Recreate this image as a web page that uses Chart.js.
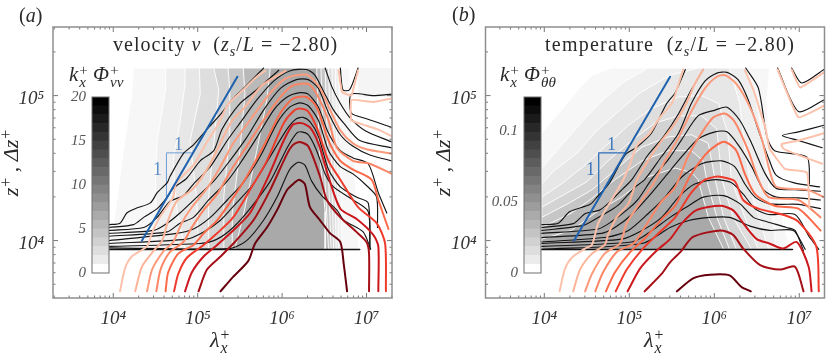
<!DOCTYPE html>
<html><head><meta charset="utf-8">
<style>
html,body{margin:0;padding:0;background:#fff;width:830px;height:354px;overflow:hidden}
canvas{position:absolute;display:block}
.t{position:absolute;font-family:'Liberation Serif',serif;color:#2a2a2a;white-space:nowrap;line-height:1}
.t i{font-style:italic}
.ss{display:inline-flex;flex-direction:column;vertical-align:middle;font-size:.72em;line-height:.8;margin-left:1px;text-align:left}
.one{color:#5d8fc9;font-size:18px}
</style>
<script src="https://cdn.jsdelivr.net/npm/chart.js@4"></script>
</head><body>
<canvas id="mainA" width="410" height="354" style="left:0;top:0"></canvas>
<canvas id="mainB" width="415" height="354" style="left:415px;top:0"></canvas>
<canvas id="barA" width="60" height="190" style="left:50px;top:90px"></canvas>
<canvas id="barB" width="60" height="190" style="left:482px;top:90px"></canvas>
<div class="t" style="left:19px;top:5px;font-size:20px">(<i>a</i>)</div>
<div class="t" style="left:452px;top:4px;font-size:20px">(<i>b</i>)</div>
<div class="t" id="titleA" style="left:113px;top:34px;font-size:20px;letter-spacing:1px">velocity <i>v</i> &nbsp;(<i>z<sub style="font-size:.7em">s</sub></i>/<i>L</i> = −2.80)</div>
<div class="t" id="titleB" style="left:545px;top:34px;font-size:20px;letter-spacing:1.25px">temperature &nbsp;(<i>z<sub style="font-size:.7em">s</sub></i>/<i>L</i> = −2.80)</div>
<div class="t" style="left:69px;top:64px;font-size:21px"><i>k</i><span class="ss"><span>+</span><i>x</i></span> <i>Φ</i><span class="ss"><span>+</span><i>vv</i></span></div>
<div class="t" style="left:500px;top:64px;font-size:21px"><i>k</i><span class="ss"><span>+</span><i>x</i></span> <i>Φ</i><span class="ss"><span>+</span><i>θθ</i></span></div>
<div class="t" style="left:210px;top:329px;font-size:22px"><i>λ</i><span class="ss"><span>+</span><i>x</i></span></div>
<div class="t" style="left:644px;top:329px;font-size:22px"><i>λ</i><span class="ss"><span>+</span><i>x</i></span></div>
<div class="t" style="left:13px;top:163px;font-size:22px;transform:translate(-50%,-50%) rotate(-90deg)"><i>z</i><span class="ss"><span>+</span><span>&nbsp;</span></span> , <i>Δz</i><span class="ss"><span>+</span><span>&nbsp;</span></span></div>
<div class="t" style="left:445px;top:163px;font-size:22px;transform:translate(-50%,-50%) rotate(-90deg)"><i>z</i><span class="ss"><span>+</span><span>&nbsp;</span></span> , <i>Δz</i><span class="ss"><span>+</span><span>&nbsp;</span></span></div>
<div class="t one" style="left:174px;top:135px">1</div>
<div class="t one" style="left:153px;top:160px">1</div>
<div class="t one" style="left:607px;top:135px;color:#3f78bd">1</div>
<div class="t one" style="left:586px;top:160px;color:#3f78bd">1</div>
<script>
// All curves: [log10(lambda_x+), log10(z+)]
const xTickExps=[4,5,6,7], zTickExps=[4,5];
const cbStepsA=[1,1,1,1,1,1,1,1,1,1,1,1,1,1,1,1,1,1,1,1];
const cbStepsB=[.0062,.0062,.0062,.0062,.0062,.0062,.0062,.0062,.0062,.0062,.0062,.0062,.0062,.0062,.0062,.0062,.0062,.0062,.0062,.0062];
const cbTicksA=[0,5,10,15,20], cbTicksB=[0,0.05,0.1];

// ---- panel (a): filled levels
const aL1=[[3.96,3.94],[4.00,4.09],[4.12,4.62],[4.22,5.01],[4.24,5.19],[6.80,5.19],[6.82,4.88],[6.86,4.51],[6.91,3.94]];
const aL2=[[4.50,3.94],[4.52,3.94],[4.50,4.42],[4.52,4.69],[4.62,5.04],[4.62,5.19],[6.67,5.19],[6.69,4.62],[6.71,3.94]];
const aL3=[[4.71,3.94],[4.85,3.94],[4.75,4.23],[4.71,4.55],[4.79,4.81],[4.85,5.08],[4.85,5.19],[6.63,5.19],[6.65,4.62],[6.67,3.94]];
const aL4=[[4.91,3.94],[5.01,3.94],[4.99,4.28],[4.91,4.69],[5.03,5.01],[5.02,5.19],[6.59,5.19],[6.62,4.62],[6.64,3.94]];
const aL5=[[5.13,3.94],[5.13,4.30],[5.21,4.78],[5.25,5.04],[5.19,5.19],[6.55,5.19],[6.58,4.62],[6.61,3.94]];
const aL6=[[5.31,3.94],[5.31,4.30],[5.38,4.74],[5.38,5.04],[5.36,5.19],[6.51,5.19],[6.54,4.62],[6.58,3.94]];
const aL7=[[5.41,3.94],[5.41,4.19],[5.50,4.62],[5.56,5.01],[5.54,5.19],[6.46,5.19],[6.49,4.62],[6.55,3.94]];
const aL8=[[5.44,3.94],[5.54,4.17],[5.70,4.62],[5.82,4.97],[5.86,5.19],[6.41,5.19],[6.44,4.62],[6.51,4.2],[6.51,3.94]];
const aLobe=[[6.90,5.19],[7.30,5.19]];
// ---- panel (a): black contours
const aK1=[[3.95,4.11],[4.08,4.12],[4.16,4.19],[4.26,4.22],[4.44,4.26],[4.52,4.33],[4.64,4.40],[4.67,4.44],[4.83,4.60],[4.95,4.66],[5.13,4.78],[5.27,4.87],[5.42,4.98],[5.58,5.07],[5.78,5.19]];
const aK2=[[3.95,4.09],[4.24,4.11],[4.36,4.16],[4.52,4.22],[4.64,4.30],[4.71,4.36],[4.87,4.43],[5.03,4.55],[5.19,4.62],[5.29,4.77],[5.50,4.945],[5.70,5.04],[5.96,5.175]];
const aK2r=[[6.51,5.19],[6.59,5.06],[6.69,4.945],[6.80,4.85],[6.98,4.76],[7.30,4.68]];
const aK3=[[3.95,4.07],[4.36,4.09],[4.52,4.16],[4.67,4.27],[4.83,4.31],[4.95,4.39],[5.15,4.51],[5.35,4.69],[5.50,4.81],[5.70,4.97],[5.90,5.10],[6.09,5.17],[6.29,5.18],[6.39,5.14],[6.49,5.03],[6.61,4.90],[6.73,4.81],[6.92,4.69],[7.30,4.64]];
const aK4=[[3.95,4.05],[4.48,4.07],[4.64,4.12],[4.79,4.19],[4.99,4.30],[5.19,4.41],[5.38,4.55],[5.58,4.71],[5.78,4.90],[5.98,5.05],[6.17,5.11],[6.31,5.11],[6.43,5.05],[6.55,4.88],[6.69,4.73],[6.84,4.65],[7.04,4.59],[7.30,4.55]];
const aK5=[[3.95,4.03],[4.64,4.06],[4.79,4.12],[4.95,4.16],[5.13,4.28],[5.35,4.41],[5.50,4.53],[5.70,4.71],[5.90,4.90],[6.06,4.99],[6.21,5.02],[6.31,5.01],[6.43,4.92],[6.55,4.74],[6.69,4.62],[6.84,4.57],[7.02,4.53],[7.14,4.33],[7.24,4.19]];
const aK6=[[3.95,4.00],[4.75,4.05],[4.95,4.08],[5.15,4.16],[5.35,4.28],[5.54,4.40],[5.74,4.58],[5.94,4.81],[6.09,4.92],[6.21,4.95],[6.31,4.93],[6.43,4.83],[6.55,4.62],[6.69,4.51],[6.84,4.46],[7.00,4.38],[7.12,4.30],[7.13,4.09]];
const aK7=[[3.95,3.98],[4.87,4.01],[5.07,4.06],[5.27,4.14],[5.46,4.26],[5.66,4.39],[5.86,4.58],[6.06,4.77],[6.17,4.84],[6.25,4.85],[6.33,4.82],[6.43,4.72],[6.55,4.49],[6.69,4.37],[6.88,4.30],[7.02,4.26],[7.04,3.96]];
const aK8=[[3.95,3.96],[5.03,3.98],[5.23,4.01],[5.42,4.09],[5.62,4.22],[5.86,4.41],[6.06,4.64],[6.17,4.74],[6.23,4.75],[6.31,4.73],[6.41,4.62],[6.51,4.46],[6.61,4.37],[6.84,4.28],[7.02,4.20],[7.04,3.94]];
const aK9=[[3.95,3.95],[5.38,3.945],[5.58,4.00],[5.78,4.14],[5.94,4.30],[6.09,4.49],[6.19,4.54],[6.27,4.52],[6.35,4.41],[6.47,4.31],[6.65,4.21],[6.73,4.14],[6.96,4.06],[7.05,3.94]];
const aKcup=[[6.69,5.19],[6.72,5.04],[6.80,5.04],[6.90,5.19]];
const aKlobe=[[7.30,5.01],[7.08,5.00],[6.82,5.01],[6.82,4.88],[7.00,4.84],[7.30,4.78]];
const aFlat=[[3.95,3.938],[6.92,3.938]];
// ---- panel (a): coloured contours
const aR1=[[4.08,3.65],[4.14,3.81],[4.22,3.89],[4.40,3.96],[4.45,4.04],[4.54,4.15],[4.62,4.22],[4.71,4.30],[4.74,4.39],[4.83,4.45],[4.95,4.52],[5.09,4.66],[5.25,4.81],[5.36,4.94],[5.54,5.04],[5.70,5.13],[5.80,5.17]];
const aR2=[[4.26,3.65],[4.34,3.82],[4.48,3.93],[4.58,4.00],[4.65,4.14],[4.75,4.27],[4.95,4.36],[5.13,4.51],[5.25,4.65],[5.40,4.82],[5.56,4.92],[5.76,5.07],[6.04,5.17]];
const aR3=[[4.40,3.65],[4.46,3.80],[4.60,3.93],[4.71,3.99],[4.81,4.12],[4.93,4.23],[5.11,4.36],[5.27,4.51],[5.42,4.67],[5.62,4.83],[5.82,4.99],[6.02,5.11],[6.17,5.14],[6.31,5.14],[6.45,5.05],[6.57,4.90],[6.69,4.76],[6.84,4.67],[7.00,4.63],[7.30,4.60]];
const aR4=[[4.51,3.65],[4.56,3.80],[4.67,3.92],[4.83,3.99],[4.93,4.09],[5.07,4.21],[5.23,4.32],[5.40,4.49],[5.58,4.65],[5.78,4.83],[5.98,4.99],[6.13,5.07],[6.31,5.08],[6.41,5.01],[6.55,4.83],[6.65,4.64],[6.84,4.55],[7.04,4.53],[7.30,4.46]];
const aR5=[[4.62,3.65],[4.65,3.78],[4.77,3.91],[4.95,3.97],[5.07,4.05],[5.23,4.14],[5.38,4.26],[5.58,4.44],[5.78,4.65],[5.98,4.88],[6.13,4.98],[6.29,4.99],[6.41,4.92],[6.55,4.69],[6.69,4.55],[6.84,4.49],[7.06,4.42],[7.14,4.28],[7.26,4.08]];
const aR6=[[4.72,3.65],[4.77,3.77],[4.87,3.88],[5.07,3.97],[5.23,4.05],[5.42,4.16],[5.62,4.35],[5.82,4.55],[6.02,4.81],[6.15,4.90],[6.23,4.91],[6.31,4.89],[6.41,4.78],[6.55,4.55],[6.69,4.42],[6.90,4.23],[7.12,4.12],[7.22,3.98],[7.23,3.65]];
const aR7=[[4.85,3.65],[4.93,3.78],[5.07,3.89],[5.23,3.97],[5.42,4.07],[5.62,4.19],[5.82,4.42],[6.02,4.69],[6.13,4.80],[6.23,4.81],[6.33,4.78],[6.43,4.67],[6.55,4.44],[6.69,4.22],[6.88,4.15],[7.08,4.04],[7.14,3.96],[7.14,3.65]];
const aR8=[[5.01,3.65],[5.11,3.80],[5.27,3.89],[5.44,3.99],[5.66,4.14],[5.86,4.35],[6.06,4.60],[6.13,4.66],[6.21,4.68],[6.31,4.65],[6.45,4.44],[6.53,4.28],[6.69,4.16],[6.88,4.06],[7.00,3.99],[7.03,3.91],[7.03,3.65]];
const aR9=[[5.27,3.65],[5.42,3.75],[5.60,3.86],[5.68,3.98],[5.82,4.09],[5.94,4.21],[6.06,4.35],[6.15,4.40],[6.20,4.42],[6.27,4.39],[6.33,4.23],[6.45,4.14],[6.57,4.05],[6.69,3.99],[6.73,3.84],[6.77,3.65]];
const aRcup=[[6.67,5.175],[6.71,5.025],[6.82,5.00],[6.87,5.105],[6.90,5.175]];
const aRlobe=[[7.30,4.98],[7.08,4.956],[6.82,4.97],[6.82,4.83],[6.96,4.80],[7.12,4.77],[7.30,4.72]];
const aSlope=[[4.34,4.00],[5.47,5.13]];
const aTri=[[4.63,4.29],[4.63,4.605],[4.94,4.605]];

// ---- panel (b): filled levels
const bL1=[[3.97,3.94],[3.97,4.74],[4.20,4.90],[4.40,5.04],[4.56,5.14],[4.79,5.19],[6.65,5.19],[6.62,4.97],[6.64,4.69],[6.75,4.28],[6.89,3.94]];
const bL2=[[3.97,3.94],[3.97,4.50],[4.22,4.67],[4.46,4.83],[4.69,4.97],[4.93,5.09],[5.22,5.19],[6.36,5.19],[6.48,5.01],[6.56,4.74],[6.66,4.28],[6.73,3.94]];
const bL3=[[3.97,3.94],[3.97,4.39],[4.11,4.48],[4.38,4.60],[4.62,4.76],[4.89,4.90],[5.13,5.02],[5.48,5.14],[5.81,5.19],[6.18,5.19],[6.30,4.945],[6.36,4.62],[6.46,4.28],[6.64,3.94]];
const bL4=[[3.97,3.94],[3.97,4.30],[4.20,4.39],[4.48,4.52],[4.71,4.645],[4.99,4.795],[5.26,4.91],[5.58,4.99],[5.85,5.00],[6.05,4.945],[6.16,4.74],[6.20,4.42],[6.36,4.16],[6.52,3.94]];
const bL5=[[3.97,3.94],[3.97,4.23],[4.18,4.30],[4.50,4.405],[4.75,4.55],[5.03,4.69],[5.30,4.81],[5.58,4.86],[5.85,4.86],[6.03,4.77],[6.09,4.42],[6.22,4.16],[6.44,3.94]];
const bL6=[[3.97,3.94],[3.97,4.16],[4.28,4.255],[4.56,4.35],[4.83,4.485],[5.15,4.645],[5.46,4.715],[5.73,4.73],[5.93,4.67],[6.01,4.42],[6.11,4.16],[6.26,3.94]];
const bL7=[[3.97,3.94],[3.97,4.09],[4.32,4.19],[4.56,4.29],[4.83,4.42],[5.15,4.55],[5.46,4.62],[5.73,4.62],[5.87,4.55],[5.91,4.42],[6.03,4.16],[6.18,3.94]];
const bL8=[[3.97,3.94],[3.97,4.01],[4.32,4.07],[4.60,4.19],[4.91,4.30],[5.22,4.44],[5.54,4.50],[5.73,4.47],[5.81,4.42],[5.93,4.16],[6.11,3.94]];
// ---- panel (b): black contours
const bK1=[[3.97,4.11],[4.165,4.12],[4.30,4.20],[4.54,4.25],[4.62,4.30],[4.77,4.40],[4.95,4.59],[5.09,4.645],[5.26,4.74],[5.44,4.945],[5.54,5.02],[5.66,5.18]];
const bK2=[[3.97,4.09],[4.34,4.117],[4.48,4.185],[4.65,4.21],[4.75,4.255],[4.93,4.36],[5.03,4.42],[5.22,4.59],[5.40,4.715],[5.58,4.875],[5.73,5.04],[5.87,5.18]];
const bK3=[[3.97,4.07],[4.46,4.105],[4.635,4.16],[4.81,4.22],[4.89,4.255],[5.07,4.37],[5.18,4.42],[5.38,4.58],[5.58,4.74],[5.73,4.945],[5.89,5.10],[6.03,5.155],[6.15,5.16],[6.28,5.11],[6.40,4.97],[6.52,4.76],[6.65,4.55],[6.73,4.45],[6.93,4.40],[7.24,4.37]];
const bK4=[[3.97,4.05],[4.635,4.08],[4.79,4.13],[4.99,4.22],[5.11,4.29],[5.26,4.42],[5.46,4.56],[5.62,4.70],[5.81,4.86],[6.01,4.90],[6.15,4.92],[6.30,4.83],[6.44,4.67],[6.60,4.46],[6.73,4.36],[6.99,4.35],[7.25,4.34]];
const bK5=[[3.97,4.02],[4.675,4.05],[4.83,4.09],[5.03,4.18],[5.22,4.30],[5.42,4.44],[5.62,4.58],[5.81,4.70],[6.01,4.75],[6.15,4.75],[6.30,4.645],[6.44,4.51],[6.58,4.35],[6.73,4.30],[6.99,4.295],[7.25,4.28]];
const bK6=[[3.97,3.99],[4.75,4.025],[4.99,4.07],[5.22,4.185],[5.42,4.30],[5.62,4.44],[5.85,4.53],[6.09,4.55],[6.24,4.51],[6.36,4.39],[6.48,4.30],[6.64,4.255],[6.79,4.25],[6.99,4.25],[7.25,4.22]];
const bK7=[[3.97,3.98],[4.91,4.01],[5.15,4.07],[5.38,4.16],[5.58,4.30],[5.77,4.39],[6.01,4.42],[6.20,4.40],[6.34,4.32],[6.48,4.22],[6.64,4.18],[6.95,4.18],[7.12,4.025],[7.23,3.94]];
const bK8=[[3.97,3.96],[5.03,3.99],[5.22,4.05],[5.48,4.16],[5.67,4.23],[5.87,4.30],[6.11,4.31],[6.30,4.255],[6.46,4.16],[6.62,4.13],[6.85,4.09],[6.95,4.07],[7.05,3.93]];
const bK9=[[3.97,3.94],[5.15,3.98],[5.48,4.09],[5.71,4.14],[5.95,4.16],[6.18,4.16],[6.42,4.10],[6.65,4.07],[6.93,4.07],[7.07,3.94]];
const bKcup=[[6.91,5.19],[7.03,5.087],[7.29,5.18]];
const bKvee=[[6.745,5.19],[6.99,4.89],[7.29,4.97]];
const bKlobe=[[7.29,4.795],[6.99,4.75],[6.80,4.725],[6.99,4.69],[7.27,4.64]];
const bKdesc=[[6.37,5.19],[6.52,5.05],[6.62,4.715],[6.71,4.62],[7.09,4.575],[7.12,4.39]];
const bFlat=[[3.97,3.938],[6.92,3.938]];
// ---- panel (b): coloured contours
const bR1=[[4.18,3.65],[4.24,3.80],[4.32,3.88],[4.48,3.945],[4.56,3.97],[4.635,4.12],[4.79,4.28],[4.93,4.42],[5.01,4.53],[5.09,4.655],[5.24,4.74],[5.36,4.85],[5.50,4.945],[5.58,5.08],[5.635,5.18]];
const bR2=[[4.34,3.65],[4.42,3.80],[4.56,3.91],[4.71,3.97],[4.75,4.04],[4.85,4.16],[4.99,4.255],[5.09,4.42],[5.22,4.55],[5.38,4.69],[5.54,4.81],[5.67,4.945],[5.77,5.08],[5.87,5.18]];
const bR3=[[4.48,3.65],[4.56,3.77],[4.71,3.91],[4.89,3.98],[4.97,4.12],[5.15,4.28],[5.28,4.39],[5.42,4.55],[5.58,4.71],[5.73,4.89],[5.89,5.05],[6.03,5.13],[6.13,5.14],[6.26,5.08],[6.42,4.92],[6.56,4.70],[6.65,4.485],[6.73,4.37],[7.09,4.35],[7.29,4.30]];
const bR4=[[4.60,3.65],[4.69,3.78],[4.85,3.92],[5.05,3.98],[5.18,4.09],[5.36,4.255],[5.54,4.37],[5.69,4.58],[5.85,4.74],[5.99,4.85],[6.13,4.875],[6.24,4.82],[6.40,4.62],[6.52,4.42],[6.64,4.30],[6.99,4.28],[7.25,4.16]];
const bR5=[[4.725,3.65],[4.83,3.78],[5.01,3.92],[5.20,4.025],[5.40,4.16],[5.54,4.24],[5.71,4.44],[5.89,4.59],[6.03,4.66],[6.13,4.68],[6.26,4.62],[6.36,4.46],[6.48,4.32],[6.71,4.24],[6.99,4.22],[7.25,4.07]];
const bR6=[[4.84,3.65],[4.97,3.80],[5.16,3.945],[5.38,4.07],[5.54,4.16],[5.73,4.33],[5.89,4.42],[6.01,4.44],[6.07,4.44],[6.24,4.41],[6.34,4.28],[6.52,4.22],[6.83,4.175],[6.99,4.13],[7.20,3.96],[7.23,3.65]];
const bR7=[[4.98,3.65],[5.13,3.81],[5.32,3.93],[5.48,4.01],[5.62,4.12],[5.79,4.21],[6.07,4.24],[6.22,4.21],[6.34,4.12],[6.50,4.01],[6.65,3.98],[6.81,3.945],[6.97,3.99],[7.11,3.82],[7.145,3.65]];
const bR8=[[5.18,3.65],[5.38,3.77],[5.48,3.85],[5.60,3.92],[5.75,4.025],[6.07,4.07],[6.22,4.04],[6.34,3.945],[6.54,3.83],[6.77,3.80],[6.95,3.82],[7.05,3.65]];
const bR9=[[5.56,3.65],[5.75,3.74],[5.95,3.765],[6.18,3.76],[6.32,3.68],[6.43,3.65]];
const bRcup=[[6.91,5.18],[7.01,5.055],[7.29,5.16]];
const bRvee=[[6.745,5.18],[6.99,4.85],[7.29,4.93]];
const bRlobe=[[7.29,4.74],[6.99,4.69],[6.79,4.665],[6.81,4.635],[6.99,4.59],[7.27,4.53]];
const bRdesc=[[6.36,5.175],[6.46,5.04],[6.60,4.78],[6.65,4.635],[6.83,4.495],[7.09,4.47],[7.12,4.22]];
const bSlope=[[4.35,4.00],[5.48,5.13]];
const bTri=[[4.64,4.29],[4.64,4.605],[4.95,4.605]];

const fillGreys=['#f7f7f7','#efefef','#e7e7e7','#dedede','#d3d3d3','#c6c6c6','#b9b9b9','#a9a9a9'];
const redCols=['#fcc2ab','#fcb499','#fc9a7c','#fb8767','#fb6a4a','#ef3b2c','#cb181d','#a50f15','#67000d'];
const BASE=3.94;
const pts=a=>a.map(([x,z])=>({x:10**x,y:10**z}));
let ord;
function ds(a,o){return Object.assign({data:pts(a),showLine:true,pointRadius:0,borderJoinStyle:'round',borderCapStyle:'round',tension:0,fill:false,order:ord--},o);}
function panel(p){
  ord=1000; const out=[];
  p.hills.forEach((h,i)=>out.push(ds(h,{borderColor:'rgba(255,255,255,.9)',borderWidth:1,backgroundColor:fillGreys[i],fill:{target:{value:10**BASE}}})));
  (p.extra||[]).forEach(e=>out.push(ds(e.d,{borderColor:'#f5f5f5',borderWidth:0,backgroundColor:'#f5f5f5',fill:{target:{value:10**e.to}}})));
  p.tri&&out.push(ds(p.tri,{borderColor:p.triCol,borderWidth:p.triW}));
  p.black.forEach(k=>out.push(ds(k,{borderColor:'#141414',borderWidth:1.15,tension:.25})));
  out.push(ds(p.flat,{borderColor:'#111',borderWidth:1.5}));
  p.red.forEach((r,i)=>out.push(ds(r,{borderColor:redCols[i],borderWidth:2,tension:.25})));
  p.lobes.forEach(r=>out.push(ds(r,{borderColor:redCols[0],borderWidth:2,tension:.1})));
  out.push(ds(p.slope,{borderColor:'#1f62ae',borderWidth:2}));
  return out;
}
const inwardTicks={id:'inwardTicks',afterDatasetsDraw(c){
  const g=c.ctx,A=c.chartArea,X=c.scales.x,Y=c.scales.y;
  g.save();g.strokeStyle='#555';g.lineWidth=.8;
  const line=(a,b,d,e)=>{g.beginPath();g.moveTo(a,b);g.lineTo(d,e);g.stroke();};
  for(let d=3;d<=8;d++)for(let m=1;m<10;m++){
    const v=m*10**d,L=m===1?5:2.5;
    if(v>=X.min&&v<=X.max){const p=X.getPixelForValue(v);line(p,A.bottom,p,A.bottom-L);line(p,A.top,p,A.top+L);}
    if(v>=Y.min&&v<=Y.max){const p=Y.getPixelForValue(v);line(A.left,p,A.left+L,p);line(A.right,p,A.right-L,p);}
  }
  g.strokeStyle='#8e8e8e';g.lineWidth=1.5;g.strokeRect(A.left,A.top,A.right-A.left,A.bottom-A.top);
  g.restore();
}};
const tickFont={family:"'Liberation Serif',serif",style:'italic',size:19};
const sup={4:'⁴',5:'⁵',6:'⁶',7:'⁷'};
function mainChart(id,p,xMin,xMax,leftW,padR){
  new Chart(document.getElementById(id),{type:'scatter',plugins:[inwardTicks],data:{datasets:panel(p)},options:{
    responsive:false,animation:false,devicePixelRatio:1,events:[],
    layout:{padding:{top:27,right:padR,left:0,bottom:0}},
    plugins:{legend:{display:false},tooltip:{enabled:false},title:{display:false}},
    scales:{
      x:{type:'logarithmic',min:10**xMin,max:10**xMax,grid:{display:false,drawTicks:false},border:{display:false},
        afterBuildTicks:s=>{s.ticks=xTickExps.map(e=>({value:10**e}));},
        afterFit:s=>{s.height=56;},
        ticks:{autoSkip:false,maxRotation:0,padding:10,color:'#333',font:tickFont,callback:v=>'10'+sup[Math.round(Math.log10(v))]}},
      y:{type:'logarithmic',min:10**3.604,max:10**5.473,grid:{display:false,drawTicks:false},border:{display:false},
        afterBuildTicks:s=>{s.ticks=zTickExps.map(e=>({value:10**e}));},
        afterFit:s=>{s.width=leftW;},
        ticks:{autoSkip:false,padding:9,labelOffset:3,color:'#333',font:tickFont,callback:v=>'10'+sup[Math.round(Math.log10(v))]}}
    }}});
}
const barFrame={id:'barFrame',afterDatasetsDraw(c){const g=c.ctx,A=c.chartArea;g.save();g.strokeStyle='#6e6e6e';g.lineWidth=1;g.strokeRect(A.left,A.top,A.right-A.left,A.bottom-A.top);g.restore();}};
function colourBar(id,steps,ticks,max,lbl){
  const n=steps.length;
  const sets=steps.map((v,i)=>{const s=Math.round(255*(1-(i+(i?0.5:0))/(n-0.5)));return{data:[v],backgroundColor:`rgb(${s},${s},${s})`,barPercentage:1,categoryPercentage:1,stack:'c'};});
  new Chart(document.getElementById(id),{type:'bar',plugins:[barFrame],data:{labels:[''],datasets:sets},options:{
    responsive:false,animation:false,devicePixelRatio:1,events:[],
    layout:{padding:{top:7,bottom:7,right:1,left:0}},
    plugins:{legend:{display:false},tooltip:{enabled:false}},
    scales:{x:{display:false,stacked:true},
      y:{stacked:true,min:0,max:max,grid:{display:false,drawTicks:false},border:{display:false},
        afterBuildTicks:s=>{s.ticks=ticks.map(v=>({value:v}));},
        afterFit:s=>{s.width=42;s.paddingTop=0;s.paddingBottom=0;},
        ticks:{padding:6,color:'#555',font:{family:"'Liberation Serif',serif",style:'italic',size:15},callback:lbl}}}}});
}
mainChart('mainA',{hills:[aL1,aL2,aL3,aL4,aL5,aL6,aL7,aL8],extra:[{d:aLobe,to:4.99}],tri:aTri,triCol:'#6f9fd6',triW:1,
  black:[aK1,aK2,aK2r,aK3,aK4,aK5,aK6,aK7,aK8,aK9,aKcup,aKlobe],flat:aFlat,red:[aR1,aR2,aR3,aR4,aR5,aR6,aR7,aR8,aR9],lobes:[aRcup,aRlobe],slope:aSlope},3.286,7.302,53,18);
mainChart('mainB',{hills:[bL1,bL2,bL3,bL4,bL5,bL6,bL7,bL8],tri:bTri,triCol:'#2f6fb8',triW:1.3,
  black:[bK1,bK2,bK3,bK4,bK5,bK6,bK7,bK8,bK9,bKcup,bKvee,bKlobe,bKdesc],flat:bFlat,red:[bR1,bR2,bR3,bR4,bR5,bR6,bR7,bR8,bR9],lobes:[bRcup,bRvee,bRlobe,bRdesc],slope:bSlope},3.308,7.297,70.5,5.5);
colourBar('barA',cbStepsA,cbTicksA,20,v=>String(v));
colourBar('barB',cbStepsB,cbTicksB,.124,v=>String(v));
</script>
</body></html>
